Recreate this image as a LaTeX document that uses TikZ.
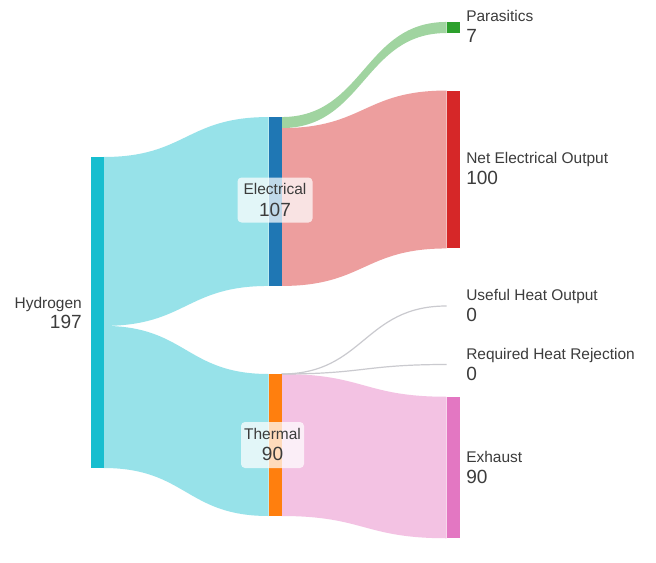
\documentclass[tikz,border=0pt]{standalone}
\usepackage{fontspec}
\setmainfont{Liberation Sans}
\usetikzlibrary{calc}

% node colours
\definecolor{cHyd}{HTML}{17BECF}
\definecolor{cEle}{HTML}{1F77B4}
\definecolor{cThe}{HTML}{FF7F0E}
\definecolor{cPar}{HTML}{2CA02C}
\definecolor{cNet}{HTML}{D62728}
\definecolor{cExh}{HTML}{E377C2}
\definecolor{cThread}{HTML}{CACACF}
\definecolor{txt}{HTML}{3C3C3C}

% one pixel of the drawing grid
\def\pxu{0.75pt}

% filled flow band: colour, source top, source bottom, target top, target bottom
\newcommand\sankeyband[5]{%
  \fill[#1] let \p1=(#2), \p2=(#3), \p3=(#4), \p4=(#5) in
    (\p1) .. controls ({(\x1+\x3)/2},\y1) and ({(\x1+\x3)/2},\y3) .. (\p3)
    -- (\p4) .. controls ({(\x2+\x4)/2},\y4) and ({(\x2+\x4)/2},\y2) .. (\p2)
    -- cycle;}

% zero-value flow drawn as a thin curve: colour, source point, target point
\newcommand\sankeythread[3]{%
  \draw[#1, line width=0.9pt] let \p1=(#2), \p2=(#3) in
    (\p1) .. controls ({(\x1+\x2)/2},\y1) and ({(\x1+\x2)/2},\y2) .. (\p2);}

\begin{document}
\begin{tikzpicture}[x=0.75pt, y=-0.75pt,
  bar/.style={draw=none, inner sep=0pt, outer sep=0pt, minimum width={13*\pxu}},
  namelabel/.style={text=txt, font=\fontsize{11.6}{13}\selectfont, inner sep=0pt},
  vallabel/.style={text=txt, font=\fontsize{14.3}{16}\selectfont, inner sep=0pt},
  labelbox/.style={fill=white, fill opacity=0.72, draw=none, rounded corners=3pt, inner sep=0pt}]

  \fill[white] (0,0) rectangle (656,563);
  \path[use as bounding box] (0,0) rectangle (656,563);

  % node bars
  \node[bar, fill=cHyd, minimum height={311*\pxu}] (hyd) at (97,312.5) {};
  \node[bar, fill=cEle, minimum height={168.9*\pxu}] (elec) at (275,201.5) {};
  \node[bar, fill=cThe, minimum height={142*\pxu}] (therm) at (275,445) {};
  \node[bar, fill=cPar, minimum height={11.05*\pxu}] (par) at (453,27.5) {};
  \node[bar, fill=cNet, minimum height={157.9*\pxu}] (net) at (453,169.5) {};
  \node[bar, fill=cExh, minimum height={141.5*\pxu}] (exh) at (453,467.5) {};
  \coordinate (useful) at (446.5,306);
  \coordinate (required) at (446.5,364.5);

  % split points on the source bars
  \coordinate (hsplit) at ($(hyd.north east)+(0,168.9)$);
  \coordinate (esplit) at ($(elec.north east)+(0,11.05)$);

  % flows
  \sankeyband{cHyd!45!white}{hyd.north east}{hsplit}{elec.north west}{elec.south west}
  \sankeyband{cHyd!45!white}{hsplit}{hyd.south east}{therm.north west}{therm.south west}
  \sankeyband{cPar!45!white}{elec.north east}{esplit}{par.north west}{par.south west}
  \sankeyband{cNet!45!white}{esplit}{elec.south east}{net.north west}{net.south west}
  \sankeyband{cExh!45!white}{therm.north east}{therm.south east}{exh.north west}{exh.south west}
  \sankeythread{cThread}{therm.north east}{useful}
  \sankeythread{cThread}{therm.north east}{required}

  % redraw bars on top of the band edges
  \fill[cHyd] (hyd.south west) rectangle (hyd.north east);
  \fill[cEle] (elec.south west) rectangle (elec.north east);
  \fill[cThe] (therm.south west) rectangle (therm.north east);
  \fill[cPar] (par.south west) rectangle (par.north east);
  \fill[cNet] (net.south west) rectangle (net.north east);
  \fill[cExh] (exh.south west) rectangle (exh.north east);

  % labels on the left
  \node[namelabel, anchor=base east] (hydname) at (82,308) {Hydrogen};
  \node[vallabel, anchor=base east] (hydval) at (82,328) {197};

  % labels in the middle column
  \node[labelbox, minimum width={75*\pxu}, minimum height={45*\pxu}] (elecbox) at (275,200) {};
  \node[namelabel, anchor=base] (elecname) at (275,194) {Electrical};
  \node[vallabel, anchor=base] (elecval) at (275,216) {107};
  \node[labelbox, minimum width={63*\pxu}, minimum height={46*\pxu}] (thermbox) at (272.5,445) {};
  \node[namelabel, anchor=base] (thermname) at (272.5,439) {Thermal};
  \node[vallabel, anchor=base] (thermval) at (272.5,460) {90};

  % labels on the right
  \node[namelabel, anchor=base west] (parname) at (466,22) {Parasitics};
  \node[vallabel, anchor=base west] (parval) at (466,43) {7};
  \node[namelabel, anchor=base west] (netname) at (466,164) {Net Electrical Output};
  \node[vallabel, anchor=base west] (netval) at (466,185) {100};
  \node[namelabel, anchor=base west] (usename) at (466,300) {Useful Heat Output};
  \node[vallabel, anchor=base west] (useval) at (466,321) {0};
  \node[namelabel, anchor=base west] (reqname) at (466,359) {Required Heat Rejection};
  \node[vallabel, anchor=base west] (reqval) at (466,380) {0};
  \node[namelabel, anchor=base west] (exhname) at (466,462) {Exhaust};
  \node[vallabel, anchor=base west] (exhval) at (466,483) {90};
\end{tikzpicture}
\end{document}
